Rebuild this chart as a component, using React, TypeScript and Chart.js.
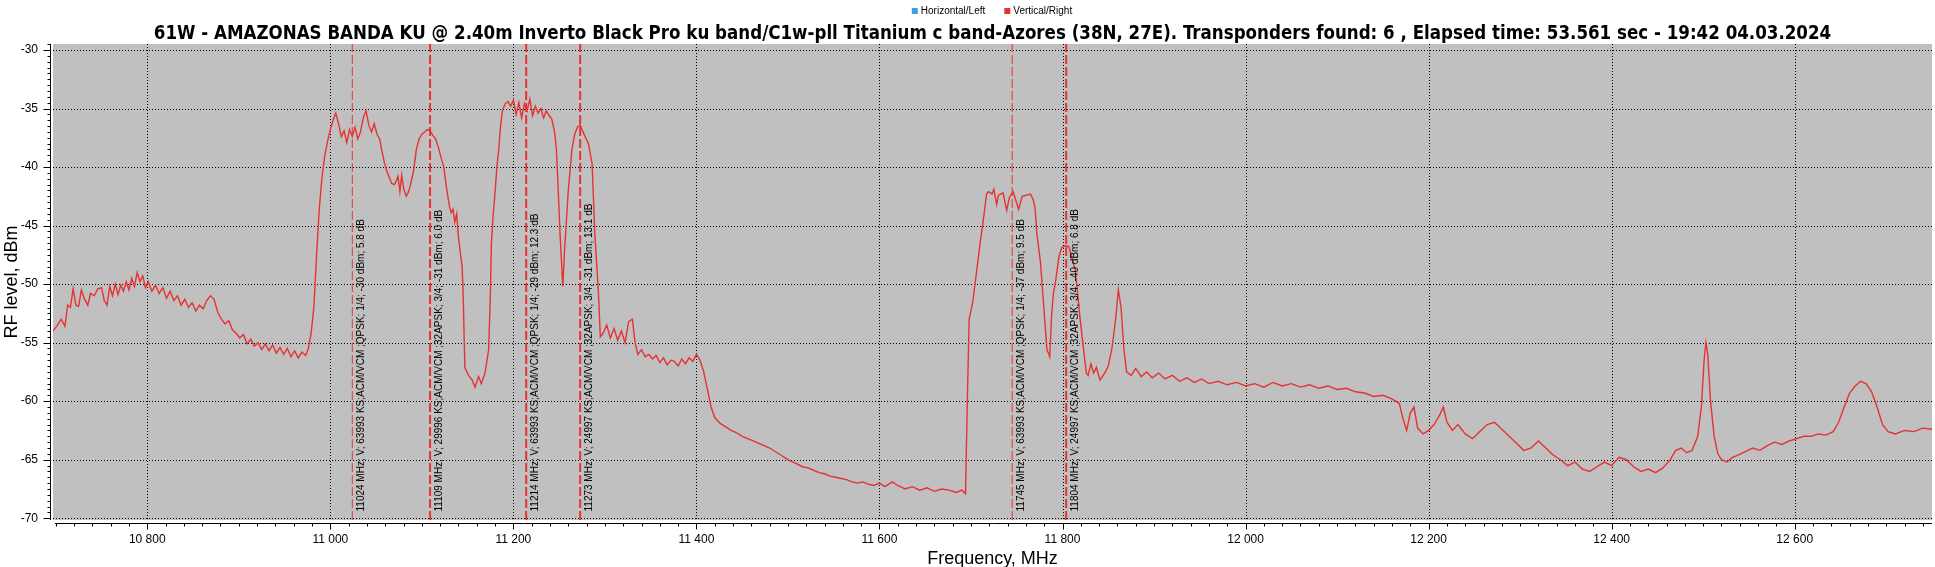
import React, { useEffect, useRef } from "react";
import { Chart, registerables } from "chart.js";

Chart.register(...registerables);

const TITLE =
  "61W - AMAZONAS BANDA KU @ 2.40m Inverto Black Pro ku band/C1w-pll Titanium c band-Azores (38N, 27E). Transponders found: 6 , Elapsed time: 53.561 sec - 19:42 04.03.2024";
const SERIES_LABELS = ["Horizontal/Left", "Vertical/Right"];
const SERIES_COLORS = ["#3ca0dc", "#e63232"];
const X_TITLE = "Frequency, MHz";
const Y_TITLE = "RF level, dBm";

const X_MIN = 10697;
const X_MAX = 12750;
const Y_MIN = -70.15;
const Y_MAX = -29.49;
const X_TICKS = [10800, 11000, 11200, 11400, 11600, 11800, 12000, 12200, 12400, 12600];
const Y_TICKS = [-70, -65, -60, -55, -50, -45, -40, -35, -30];

// Vertical/Right scan (MHz, dBm)
const freqs = [
  10697, 10702, 10706, 10710, 10713, 10716, 10719, 10722, 10725, 10728, 10731, 10735, 10738, 10742, 10746, 10750,
  10753, 10756, 10759, 10762, 10765, 10768, 10771, 10774, 10777, 10780, 10783, 10786, 10789, 10792, 10795, 10798,
  10801, 10805, 10809, 10813, 10817, 10821, 10825, 10829, 10833, 10837, 10841, 10845, 10849, 10853, 10857, 10861,
  10865, 10869, 10873, 10877, 10881, 10885, 10889, 10893, 10897, 10901, 10905, 10909, 10913, 10917, 10921, 10925,
  10929, 10933, 10937, 10941, 10945, 10949, 10953, 10957, 10961, 10965, 10969, 10973, 10976, 10979, 10982, 10985,
  10988, 10991, 10994, 10997, 11000, 11003, 11006, 11009, 11012, 11015, 11018, 11021, 11024, 11027, 11030, 11033,
  11036, 11039, 11042, 11045, 11048, 11051, 11054, 11056, 11059, 11062, 11065, 11067, 11070, 11072, 11074, 11076,
  11078, 11080, 11083, 11085, 11087, 11089, 11091, 11094, 11097, 11100, 11103, 11106, 11109, 11112, 11115, 11118,
  11121, 11124, 11127, 11130, 11132, 11134, 11136, 11138, 11140, 11142, 11144, 11145, 11147, 11151, 11155, 11158,
  11162, 11165, 11169, 11173, 11175, 11176, 11178, 11180, 11182, 11184, 11186, 11188, 11191, 11194, 11197, 11200,
  11203, 11206, 11209, 11212, 11215, 11218, 11221, 11224, 11227, 11230, 11233, 11236, 11239, 11242, 11245, 11247,
  11249, 11251, 11254, 11256, 11258, 11260, 11264, 11267, 11270, 11273, 11276, 11279, 11282, 11286, 11289, 11293,
  11295, 11298, 11302, 11306, 11310, 11314, 11318, 11322, 11326, 11330, 11333, 11336, 11340, 11344, 11348, 11352,
  11356, 11360, 11364, 11368, 11372, 11376, 11380, 11384, 11388, 11392, 11396, 11400, 11404, 11408, 11412, 11416,
  11420, 11426, 11432, 11438, 11444, 11450, 11456, 11462, 11468, 11474, 11480, 11486, 11492, 11500, 11508, 11516,
  11522, 11528, 11534, 11540, 11546, 11552, 11558, 11564, 11570, 11576, 11582, 11588, 11594, 11600, 11606, 11614,
  11620, 11628, 11636, 11644, 11652, 11660, 11668, 11676, 11684, 11690, 11694, 11696, 11698, 11702, 11706, 11710,
  11714, 11717, 11719, 11723, 11725, 11728, 11730, 11735, 11739, 11742, 11746, 11752, 11756, 11765, 11768, 11770,
  11772, 11776, 11779, 11783, 11786, 11788, 11790, 11792, 11796, 11799, 11803, 11807, 11810, 11814, 11819, 11823,
  11826, 11828, 11831, 11834, 11837, 11841, 11846, 11850, 11854, 11858, 11861, 11864, 11867, 11870, 11875, 11880,
  11886, 11892, 11898, 11905, 11912, 11920, 11928, 11936, 11944, 11952, 11960, 11970, 11980, 11990, 12000, 12010,
  12020, 12030, 12040, 12050, 12060, 12070, 12080, 12090, 12100, 12110, 12120, 12130, 12140, 12150, 12160, 12168,
  12172, 12176, 12180, 12184, 12188, 12194, 12200, 12206, 12212, 12216, 12220, 12226, 12232, 12240, 12248, 12256,
  12264, 12272, 12280, 12288, 12296, 12304, 12312, 12320, 12328, 12336, 12344, 12352, 12360, 12368, 12376, 12384,
  12392, 12400, 12408, 12416, 12424, 12432, 12440, 12448, 12456, 12464, 12470, 12476, 12482, 12488, 12494, 12498,
  12501, 12503, 12505, 12508, 12512, 12516, 12520, 12526, 12532, 12538, 12546, 12554, 12562, 12570, 12578, 12586,
  12594, 12602, 12610, 12618, 12626, 12634, 12642, 12648, 12654, 12660, 12666, 12672, 12678, 12684, 12690, 12696,
  12702, 12710, 12720, 12730, 12740, 12750,
];
const levels = [
  -54.0, -53.5, -53.0, -53.6, -51.8, -52.0, -50.4, -51.8, -51.9, -50.5, -51.2, -51.8, -50.8, -51.0, -50.4, -50.3,
  -51.4, -51.8, -50.2, -51.0, -50.0, -50.9, -50.1, -50.6, -49.8, -50.5, -49.5, -50.2, -49.0, -49.8, -49.3, -50.3,
  -49.8, -50.6, -50.1, -50.8, -50.3, -51.2, -50.6, -51.4, -51.0, -51.8, -51.3, -52.0, -51.6, -52.3, -51.8, -52.1,
  -51.4, -51.0, -51.3, -52.4, -53.0, -53.4, -53.1, -53.9, -54.2, -54.6, -54.3, -55.1, -54.7, -55.3, -55.0, -55.6,
  -55.1, -55.7, -55.2, -55.9, -55.4, -56.0, -55.5, -56.2, -55.7, -56.3, -55.8, -56.1, -55.5, -54.2, -52.0, -47.5,
  -43.5, -40.8, -39.0, -37.8, -36.8, -36.0, -35.4, -36.3, -37.4, -36.9, -37.9, -36.8, -37.4, -36.6, -37.6, -37.0,
  -35.8, -35.2, -36.4, -37.0, -36.3, -37.2, -37.6, -38.5, -39.6, -40.4, -41.0, -41.4, -41.5, -41.2, -40.8, -42.1,
  -40.7, -41.8, -42.5, -42.2, -41.7, -41.0, -40.3, -38.5, -37.6, -37.2, -37.0, -36.8, -36.9, -37.3, -37.6, -38.3,
  -39.2, -40.0, -41.8, -43.3, -43.9, -43.6, -44.7, -44.0, -46.0, -47.3, -48.5, -50.5, -57.1, -57.8, -58.2, -58.8,
  -57.9, -58.5, -57.6, -55.6, -50.5, -46.5, -44.0, -42.2, -40.0, -38.5, -36.5, -35.2, -34.6, -34.4, -34.8, -34.3,
  -35.5, -34.5, -35.8, -34.6, -35.2, -34.2, -35.6, -34.8, -35.4, -35.0, -35.8, -35.2, -35.6, -35.9, -37.0, -38.5,
  -42.0, -45.7, -50.2, -47.0, -44.5, -42.0, -38.5, -37.2, -36.6, -36.4, -37.0, -37.5, -38.0, -39.7, -45.7, -50.8,
  -54.5, -54.2, -53.5, -54.6, -53.8, -54.8, -54.0, -55.0, -53.2, -53.0, -55.0, -56.0, -55.6, -56.2, -56.0, -56.4,
  -56.1, -56.7, -56.3, -56.9, -56.5, -56.6, -57.0, -56.4, -56.8, -56.3, -56.6, -56.0, -56.5, -57.5, -59.0, -60.5,
  -61.4, -61.9, -62.2, -62.5, -62.7, -63.0, -63.2, -63.4, -63.6, -63.8, -64.0, -64.3, -64.6, -65.0, -65.3, -65.6,
  -65.7, -65.9, -66.1, -66.2, -66.4, -66.5, -66.6, -66.7, -66.9, -67.0, -66.9, -67.1, -67.2, -67.0, -67.3, -66.9,
  -67.2, -67.5, -67.3, -67.6, -67.4, -67.7, -67.5, -67.6, -67.8, -67.6, -67.9, -60.0, -53.0, -51.5, -49.0, -46.5,
  -44.2, -42.3, -42.1, -42.3, -41.9, -43.2, -42.4, -42.2, -43.7, -42.6, -42.1, -43.6, -42.5, -42.3, -42.8, -43.5,
  -45.7, -48.2, -51.4, -55.6, -56.2, -52.8, -50.8, -50.0, -47.7, -46.9, -46.7, -46.8, -47.7, -48.8, -52.8, -55.6,
  -57.6, -57.8, -56.8, -57.6, -57.1, -58.2, -57.6, -57.0, -55.5, -53.0, -50.5, -52.0, -55.5, -57.5, -57.8, -57.2,
  -57.9, -57.5, -58.0, -57.6, -58.1, -57.8, -58.3, -58.0, -58.4, -58.1, -58.5, -58.3, -58.6, -58.4, -58.7, -58.5,
  -58.8, -58.4, -58.7, -58.5, -58.8, -58.6, -58.9, -58.7, -59.0, -58.9, -59.2, -59.3, -59.6, -59.5, -59.8, -60.2,
  -61.5, -62.5, -61.0, -60.5, -62.3, -62.8, -62.5, -62.0, -61.2, -60.5, -61.8, -62.5, -62.0, -62.8, -63.2, -62.6,
  -62.0, -61.8, -62.4, -63.0, -63.6, -64.2, -64.0, -63.4, -64.0, -64.6, -65.0, -65.5, -65.2, -65.8, -66.0, -65.6,
  -65.2, -65.5, -64.8, -65.0, -65.6, -66.0, -65.8, -66.1, -65.7, -65.0, -64.2, -64.0, -64.4, -64.2, -63.0, -60.5,
  -56.5, -55.0, -56.0, -60.0, -63.0, -64.5, -65.0, -65.2, -64.8, -64.6, -64.3, -64.0, -64.2, -63.8, -63.5, -63.7,
  -63.4, -63.2, -63.0, -63.0, -62.8, -62.9, -62.6, -61.8, -60.5, -59.3, -58.7, -58.3, -58.5, -59.2, -60.5, -62.0,
  -62.6, -62.8, -62.5, -62.6, -62.3, -62.4,
];

// Transponder markers
const markerFreqs = [11024, 11109, 11214, 11273, 11745, 11804];
const markerLabels = [
  "11024 MHz; V; 63993 KS;ACM/VCM ;QPSK; 1/4; -30 dBm; 5.8 dB",
  "11109 MHz; V; 29996 KS;ACM/VCM ;32APSK; 3/4; -31 dBm; 6.0 dB",
  "11214 MHz; V; 63993 KS;ACM/VCM ;QPSK; 1/4; -29 dBm; 12.3 dB",
  "11273 MHz; V; 24997 KS;ACM/VCM ;32APSK; 3/4; -31 dBm; 13.1 dB",
  "11745 MHz; V; 63993 KS;ACM/VCM ;QPSK; 1/4; -37 dBm; 9.5 dB",
  "11804 MHz; V; 24997 KS;ACM/VCM ;32APSK; 3/4; -40 dBm; 6.8 dB",
];
const markerBold = [false, true, true, true, false, true];

function fmtThousands(v: number): string {
  return String(Math.round(v)).replace(/\B(?=(\d{3})+(?!\d))/g, " ");
}

const decorPlugin = {
  id: "decor",
  beforeDraw(chart: any) {
    const { ctx, chartArea: a } = chart;
    ctx.save();
    ctx.fillStyle = "#c0c0c0";
    ctx.fillRect(a.left, a.top, a.right - a.left, a.bottom - a.top);
    ctx.restore();
  },
  beforeDatasetsDraw(chart: any) {
    const { ctx, chartArea: a, scales } = chart;
    ctx.save();
    ctx.strokeStyle = "#000";
    ctx.lineWidth = 1;
    ctx.setLineDash([1, 2]);
    ctx.beginPath();
    X_TICKS.forEach((v) => {
      const px = Math.round(scales.x.getPixelForValue(v)) + 0.5;
      ctx.moveTo(px, a.top);
      ctx.lineTo(px, a.bottom);
    });
    Y_TICKS.forEach((v) => {
      const py = Math.round(scales.y.getPixelForValue(v)) + 0.5;
      ctx.moveTo(a.left, py);
      ctx.lineTo(a.right, py);
    });
    ctx.stroke();
    ctx.restore();
  },
  afterDraw(chart: any) {
    const { ctx, chartArea: a, scales } = chart;
    const xs = scales.x;
    const ys = scales.y;
    const cx = (a.left + a.right) / 2;
    const cy = (a.top + a.bottom) / 2;
    ctx.save();

    // axis lines
    ctx.strokeStyle = "#000";
    ctx.lineWidth = 1;
    const axX = Math.round(a.left) - 3 + 0.5;
    const axY = Math.round(a.bottom) + 3 + 0.5;
    ctx.beginPath();
    ctx.moveTo(axX, a.top);
    ctx.lineTo(axX, a.bottom);
    ctx.moveTo(a.left + 2, axY);
    ctx.lineTo(a.right, axY);
    for (let k = Math.ceil(Y_MIN * 2); k <= Math.floor(Y_MAX * 2); k++) {
      const v = k / 2;
      const py = Math.round(ys.getPixelForValue(v)) + 0.5;
      const major = k % 10 === 0;
      ctx.moveTo(axX - (major ? 7 : 3), py);
      ctx.lineTo(axX, py);
    }
    for (let k = Math.ceil(X_MIN / 20); k <= Math.floor(X_MAX / 20); k++) {
      const v = k * 20;
      const px = Math.round(xs.getPixelForValue(v)) + 0.5;
      const major = k % 10 === 0;
      ctx.moveTo(px, axY);
      ctx.lineTo(px, axY + (major ? 6 : 3));
    }
    ctx.stroke();

    // marker labels
    ctx.fillStyle = "#000";
    ctx.font = '10px "Liberation Sans"';
    ctx.textAlign = "left";
    ctx.textBaseline = "middle";
    markerFreqs.forEach((f, i) => {
      const px = xs.getPixelForValue(f);
      ctx.save();
      ctx.translate(px + 9, a.bottom - 8.5);
      ctx.rotate(-Math.PI / 2);
      ctx.fillText(markerLabels[i], 0, 0);
      ctx.restore();
    });

    // axis titles
    ctx.font = '18px "Liberation Sans"';
    ctx.textAlign = "center";
    ctx.textBaseline = "middle";
    ctx.fillStyle = "#000";
    ctx.fillText(X_TITLE, cx, 559);
    ctx.save();
    ctx.translate(12, cy);
    ctx.rotate(-Math.PI / 2);
    ctx.fillText(Y_TITLE, 0, 0);
    ctx.restore();

    // title, centred over the plot area
    const baseSize = 17;
    ctx.font = `bold ${baseSize}px "DejaVu Sans Condensed", "DejaVu Sans"`;
    const w = ctx.measureText(TITLE).width;
    const size = (baseSize * 1679) / w;
    ctx.font = `bold ${size.toFixed(2)}px "DejaVu Sans Condensed", "DejaVu Sans"`;
    ctx.textAlign = "center";
    ctx.textBaseline = "alphabetic";
    ctx.fillText(TITLE, cx, 39);

    // legend
    ctx.font = '10px "Liberation Sans"';
    ctx.textAlign = "left";
    ctx.textBaseline = "middle";
    const items = chart.data.datasets.slice(0, 2);
    const gap = 18;
    const widths = items.map((d: any) => 10 + ctx.measureText(d.label).width);
    const total = widths.reduce((s: number, v: number) => s + v, 0) + gap * (items.length - 1);
    let lx = cx - total / 2;
    items.forEach((d: any, i: number) => {
      ctx.fillStyle = d.borderColor;
      ctx.fillRect(lx, 8, 6, 6);
      ctx.fillStyle = "#000";
      ctx.fillText(d.label, lx + 9, 11.5);
      lx += widths[i] + gap;
    });

    ctx.restore();
  },
};

export default function App() {
  const ref = useRef<HTMLCanvasElement>(null);

  useEffect(() => {
    const canvas = ref.current;
    if (!canvas) return;
    Chart.defaults.font.family = '"Liberation Sans", Arial, sans-serif';

    const datasets: any[] = [
      {
        label: SERIES_LABELS[0],
        data: [],
        borderColor: SERIES_COLORS[0],
        backgroundColor: SERIES_COLORS[0],
        pointRadius: 0,
      },
      {
        label: SERIES_LABELS[1],
        data: freqs.map((f, i) => ({ x: f, y: levels[i] })),
        borderColor: SERIES_COLORS[1],
        backgroundColor: SERIES_COLORS[1],
        borderWidth: 1.4,
        pointRadius: 0,
        tension: 0,
      },
      ...markerFreqs.map((f, i) => ({
        label: "marker" + i,
        data: [
          { x: f, y: Y_MIN },
          { x: f, y: Y_MAX },
        ],
        borderColor: SERIES_COLORS[1],
        borderWidth: markerBold[i] ? 2 : 1,
        borderDash: [9, 3],
        pointRadius: 0,
      })),
    ];

    const chart = new Chart(canvas, {
      type: "line",
      data: { datasets },
      plugins: [decorPlugin],
      options: {
        responsive: false,
        animation: false,
        events: [],
        layout: { padding: { top: 44, right: 3, left: 0, bottom: 0 } },
        plugins: {
          legend: { display: false },
          title: { display: false },
          tooltip: { enabled: false },
        },
        scales: {
          x: {
            type: "linear",
            min: X_MIN,
            max: X_MAX,
            afterBuildTicks: (s: any) => {
              s.ticks = X_TICKS.map((value) => ({ value }));
            },
            afterFit: (s: any) => {
              s.height = 47;
            },
            ticks: {
              autoSkip: false,
              maxRotation: 0,
              padding: 12,
              color: "#000",
              font: { size: 12 },
              callback: (v: any) => fmtThousands(Number(v)),
            },
            grid: { display: false, drawTicks: false },
            border: { display: false },
          },
          y: {
            type: "linear",
            min: Y_MIN,
            max: Y_MAX,
            afterBuildTicks: (s: any) => {
              s.ticks = Y_TICKS.map((value) => ({ value }));
            },
            afterFit: (s: any) => {
              s.width = 53;
            },
            ticks: {
              autoSkip: false,
              padding: 15,
              color: "#000",
              font: { size: 12 },
              callback: (v: any) => String(v),
            },
            grid: { display: false, drawTicks: false },
            border: { display: false },
          },
        },
      },
    });
    return () => chart.destroy();
  }, []);

  return (
    <div style={{ position: "absolute", left: 0, top: 0, width: 1935, height: 567, background: "#fff" }}>
      <canvas ref={ref} width={1935} height={567} style={{ display: "block", width: 1935, height: 567 }} />
    </div>
  );
}
